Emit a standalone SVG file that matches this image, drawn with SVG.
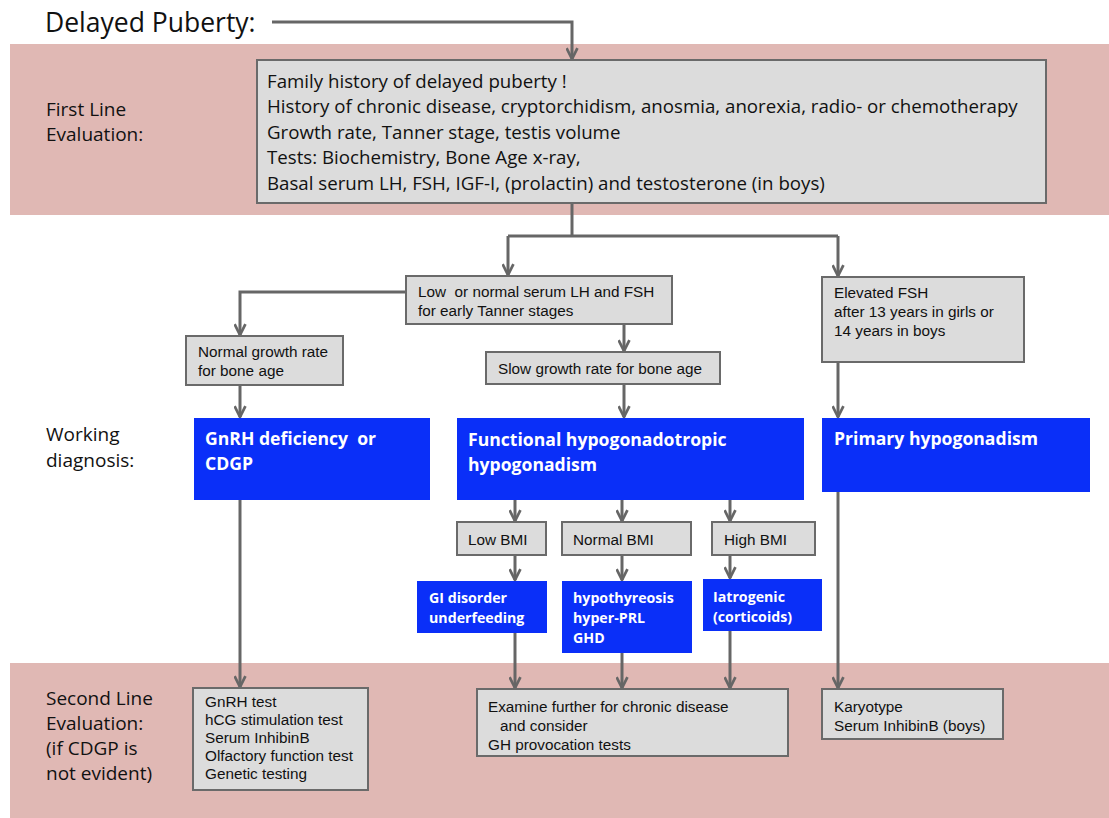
<svg xmlns="http://www.w3.org/2000/svg" width="1109" height="818" viewBox="0 0 1109 818">
<style>
.band{fill:#e0b8b4}
.gbox{fill:#dcdcdc;stroke:#6a6a6a;stroke-width:2}
.bbox{fill:#0a2ff8}
.cal{font-family:"Open Sans",Lato,sans-serif;fill:#111}
.ar{font-family:"Liberation Sans",Arial,sans-serif;font-size:15.3px;fill:#111;white-space:pre}
.bt{font-family:"Open Sans",Lato,sans-serif;font-weight:bold;fill:#fff;white-space:pre}
.con{fill:none;stroke:#666;stroke-width:3;marker-end:url(#ah)}
.ln{fill:none;stroke:#666;stroke-width:3}
</style>
<defs>
<marker id="ah" viewBox="0 0 12 12" refX="11" refY="6" markerWidth="13" markerHeight="13" markerUnits="userSpaceOnUse" orient="auto">
<path d="M1,1 L11,6 L1,11" fill="none" stroke="#666" stroke-width="2.5"/>
</marker>
</defs>
<rect width="1109" height="818" fill="#fff"/>
<g id="bands">
<rect class="band" x="10" y="44" width="1099" height="171"/>
<rect class="band" x="10" y="663" width="1099" height="155"/>
</g>
<g id="labels">
<text class="cal" x="45" y="32" font-size="26.5">Delayed Puberty:</text>
<text class="cal" x="46" y="116" font-size="19">First Line</text>
<text class="cal" x="46" y="141" font-size="19">Evaluation:</text>
<text class="cal" x="46" y="441" font-size="19">Working</text>
<text class="cal" x="46" y="467" font-size="19">diagnosis:</text>
<text class="cal" x="46" y="705" font-size="19">Second Line</text>
<text class="cal" x="46" y="730" font-size="19">Evaluation:</text>
<text class="cal" x="46" y="755" font-size="19">(if CDGP is</text>
<text class="cal" x="46" y="780" font-size="19">not evident)</text>
</g>
<g id="connectors">
<path class="con" d="M272,22 H572 V59"/>
<path class="ln" d="M572,203 V236"/>
<path class="ln" d="M508,236 H838"/>
<path class="con" d="M508,236 V275"/>
<path class="con" d="M838,236 V276"/>
<path class="con" d="M406,292 H240 V335"/>
<path class="con" d="M624,324 V351"/>
<path class="con" d="M240,385 V417"/>
<path class="con" d="M624,384 V417"/>
<path class="con" d="M838,362 V417"/>
<path class="con" d="M515,500 V521"/>
<path class="con" d="M622,500 V521"/>
<path class="con" d="M730,500 V521"/>
<path class="con" d="M515,555 V580"/>
<path class="con" d="M622,555 V580"/>
<path class="con" d="M730,555 V578"/>
<path class="con" d="M240,500 V687"/>
<path class="con" d="M515,632 V688"/>
<path class="con" d="M622,653 V688"/>
<path class="con" d="M730,631 V688"/>
<path class="con" d="M838,492 V688"/>
</g>
<g id="n-first">
<rect class="gbox" x="257" y="60" width="789" height="143"/>
<text class="cal" font-size="18.7" x="267" y="88">Family history of delayed puberty !</text>
<text class="cal" font-size="18.7" x="267" y="113">History of chronic disease, cryptorchidism, anosmia, anorexia, radio- or chemotherapy</text>
<text class="cal" font-size="18.7" x="267" y="139">Growth rate, Tanner stage, testis volume</text>
<text class="cal" font-size="18.7" x="267" y="164">Tests: Biochemistry, Bone Age x-ray,</text>
<text class="cal" font-size="18.7" x="267" y="190">Basal serum LH, FSH, IGF-I, (prolactin) and testosterone (in boys)</text>
</g>
<g id="n-low">
<rect class="gbox" x="406" y="276" width="266" height="48"/>
<text class="ar" x="418" y="297" xml:space="preserve">Low  or normal serum LH and FSH</text>
<text class="ar" x="418" y="316">for early Tanner stages</text>
</g>
<g id="n-elev">
<rect class="gbox" x="822" y="277" width="202" height="85"/>
<text class="ar" x="834" y="298">Elevated FSH</text>
<text class="ar" x="834" y="317">after 13 years in girls or</text>
<text class="ar" x="834" y="336">14 years in boys</text>
</g>
<g id="n-normal">
<rect class="gbox" x="186" y="336" width="157" height="49"/>
<text class="ar" x="198" y="357">Normal growth rate</text>
<text class="ar" x="198" y="376">for bone age</text>
</g>
<g id="n-slow">
<rect class="gbox" x="486" y="352" width="234" height="32"/>
<text class="ar" x="498" y="374">Slow growth rate for bone age</text>
</g>
<g id="n-gnrh">
<rect class="bbox" x="194" y="418" width="236" height="82"/>
<text class="bt" font-size="17.6" x="205" y="445" xml:space="preserve">GnRH deficiency  or</text>
<text class="bt" font-size="17.6" x="205" y="470">CDGP</text>
</g>
<g id="n-func">
<rect class="bbox" x="457" y="418" width="347" height="82"/>
<text class="bt" font-size="17.6" x="468" y="446">Functional hypogonadotropic</text>
<text class="bt" font-size="17.6" x="468" y="471">hypogonadism</text>
</g>
<g id="n-primary">
<rect class="bbox" x="822" y="418" width="268" height="74"/>
<text class="bt" font-size="17.6" x="834" y="445">Primary hypogonadism</text>
</g>
<g id="n-lowbmi">
<rect class="gbox" x="457" y="522" width="89" height="33"/>
<text class="ar" x="468" y="545">Low BMI</text>
</g>
<g id="n-normbmi">
<rect class="gbox" x="562" y="522" width="129" height="33"/>
<text class="ar" x="573" y="545">Normal BMI</text>
</g>
<g id="n-highbmi">
<rect class="gbox" x="712" y="522" width="103" height="33"/>
<text class="ar" x="724" y="545">High BMI</text>
</g>
<g id="n-gi">
<rect class="bbox" x="417" y="581" width="130" height="52"/>
<text class="bt" font-size="14.2" x="429" y="603">GI disorder</text>
<text class="bt" font-size="14.2" x="429" y="623">underfeeding</text>
</g>
<g id="n-hypo">
<rect class="bbox" x="562" y="581" width="130" height="72"/>
<text class="bt" font-size="14.2" x="573" y="603">hypothyreosis</text>
<text class="bt" font-size="14.2" x="573" y="623">hyper-PRL</text>
<text class="bt" font-size="14.2" x="573" y="643">GHD</text>
</g>
<g id="n-iatro">
<rect class="bbox" x="703" y="579" width="119" height="52"/>
<text class="bt" font-size="14.2" x="713" y="602">Iatrogenic</text>
<text class="bt" font-size="14.2" x="713" y="622">(corticoids)</text>
</g>
<g id="n-gnrhtest">
<rect class="gbox" x="193" y="688" width="175" height="102"/>
<text class="ar" x="205" y="707">GnRH test</text>
<text class="ar" x="205" y="725">hCG stimulation test</text>
<text class="ar" x="205" y="743">Serum InhibinB</text>
<text class="ar" x="205" y="761">Olfactory function test</text>
<text class="ar" x="205" y="779">Genetic testing</text>
</g>
<g id="n-examine">
<rect class="gbox" x="477" y="689" width="311" height="67"/>
<text class="ar" x="488" y="712">Examine further for chronic disease</text>
<text class="ar" x="500" y="731">and consider</text>
<text class="ar" x="488" y="750">GH provocation tests</text>
</g>
<g id="n-karyo">
<rect class="gbox" x="822" y="689" width="181" height="50"/>
<text class="ar" x="834" y="712">Karyotype</text>
<text class="ar" x="834" y="731">Serum InhibinB (boys)</text>
</g>
</svg>
